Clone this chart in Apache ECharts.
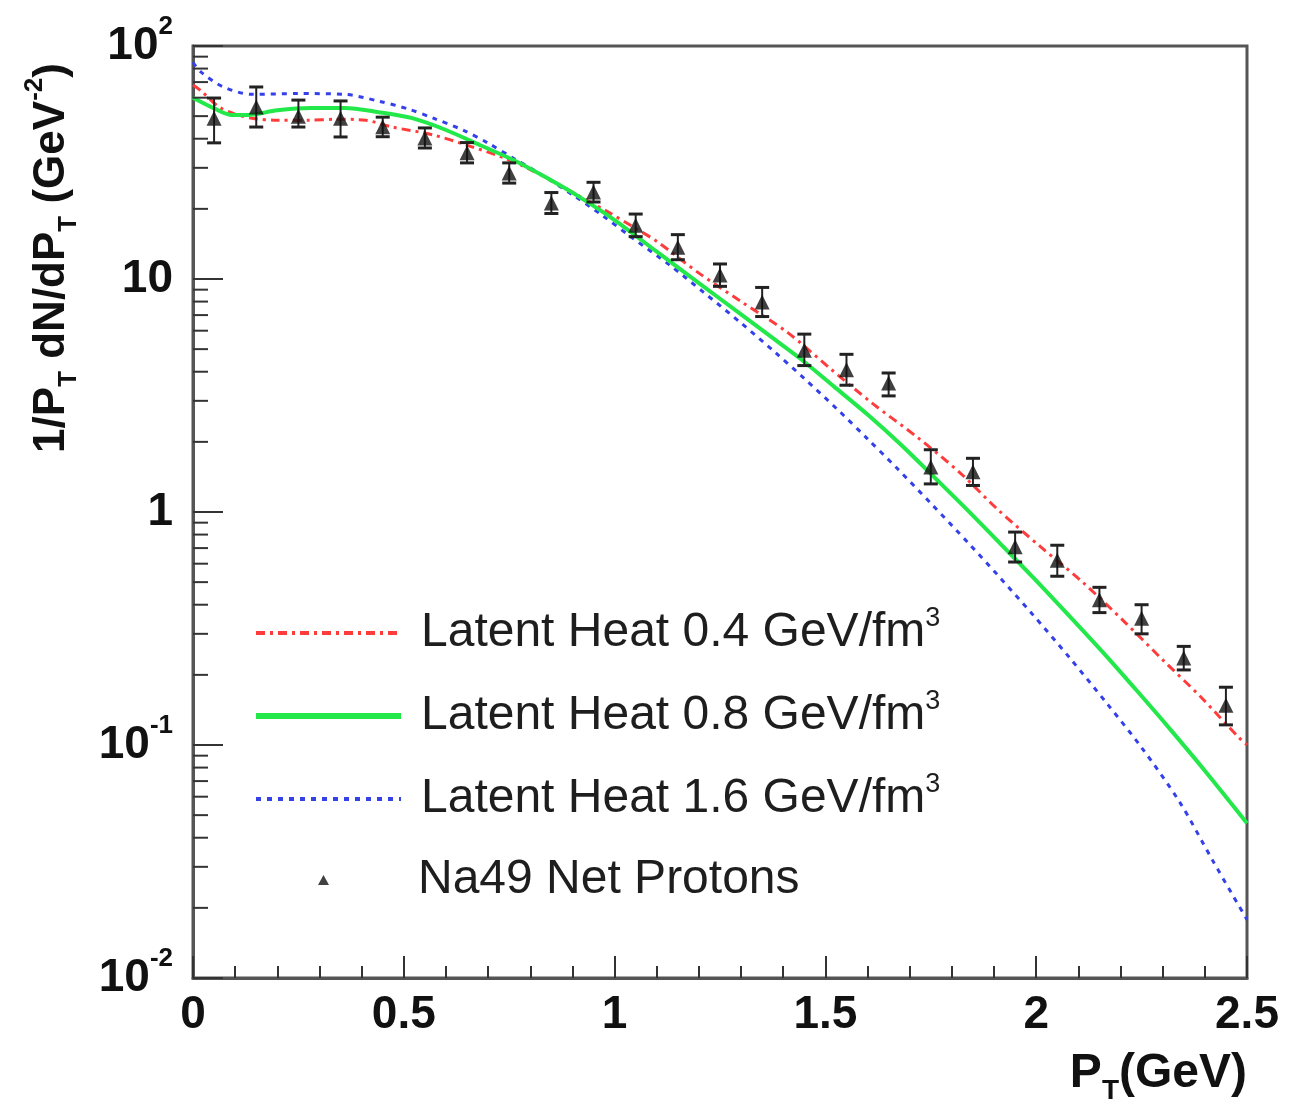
<!DOCTYPE html>
<html>
<head>
<meta charset="utf-8">
<script src="https://cdn.jsdelivr.net/npm/echarts@6/dist/echarts.min.js"></script>
<style>
  html, body { margin: 0; padding: 0; background: #fff; }
  #chart { width: 1291px; height: 1100px; }
</style>
</head>
<body>
<div id="chart"></div>
<script>
// Na49 net protons (triangles + error bars)
const ptX = [0.05, 0.15, 0.25, 0.35, 0.45, 0.55, 0.65, 0.75, 0.85, 0.95, 1.05, 1.15, 1.25,
  1.35, 1.45, 1.55, 1.65, 1.75, 1.85, 1.95, 2.05, 2.15, 2.25, 2.35, 2.45];
const ptY = [49, 54.7, 50, 49, 45, 40.3, 34.8, 28.5, 21.2, 23.6, 17, 13.7, 10.4,
  7.96, 4.95, 4.08, 3.58, 1.56, 1.49, 0.709, 0.62, 0.42, 0.35, 0.236, 0.148];
const ptHi = [59.8, 66.7, 58.6, 58.1, 49.5, 44.5, 38.5, 31.5, 23.5, 26, 19, 15.5, 11.6,
  9.2, 5.8, 4.75, 3.95, 1.85, 1.7, 0.82, 0.72, 0.475, 0.4, 0.265, 0.177];
const ptLo = [38.4, 44.9, 44.9, 40.7, 40.8, 36.5, 31.5, 25.8, 19.1, 21.4, 15.2, 12.1, 9.3,
  6.9, 4.25, 3.5, 3.15, 1.32, 1.3, 0.61, 0.53, 0.37, 0.3, 0.21, 0.122];

// latent heat 0.4 GeV/fm3
const lh04X = [0, 0.02, 0.06, 0.1, 0.14, 0.2, 0.27, 0.34, 0.41, 0.47, 0.57, 0.66, 0.74, 0.8,
  0.85, 0.92, 0.98, 1.04, 1.1, 1.2, 1.3, 1.41, 1.51, 1.61, 1.72, 1.82, 1.91, 2.01, 2.11,
  2.21, 2.3, 2.39, 2.48, 2.5];
const lh04Y = [68, 64, 55, 51, 49, 48, 48, 48.5, 48, 45, 41.5, 37, 33, 29.5, 26.5, 22.5,
  19.6, 16.9, 14.5, 10.6, 8.0, 5.9, 4.15, 2.94, 2.08, 1.47, 1.02, 0.71, 0.50, 0.337,
  0.232, 0.161, 0.108, 0.1];

// latent heat 0.8 GeV/fm3
const lh08X = [0, 0.05, 0.09, 0.13, 0.2, 0.28, 0.36, 0.44, 0.52, 0.6, 0.68, 0.76, 0.84,
  0.92, 1.0, 1.1, 1.2, 1.3, 1.37, 1.44, 1.52, 1.6, 1.68, 1.76, 1.84, 1.92, 2.0, 2.08, 2.16,
  2.24, 2.32, 2.4, 2.5];
const lh08Y = [60, 54, 50.6, 50.6, 53, 54.2, 54.2, 52, 49, 43.6, 37.6, 32.4, 27.1, 22.3,
  17.9, 13.1, 9.6, 7.05, 5.67, 4.56, 3.46, 2.62, 1.94, 1.40, 1.007, 0.716, 0.507, 0.356, 0.248,
  0.170, 0.1156, 0.0776, 0.0462];

// latent heat 1.6 GeV/fm3
const lh16X = [0, 0.02, 0.07, 0.14, 0.25, 0.36, 0.44, 0.51, 0.57, 0.64, 0.7, 0.76, 0.82,
  0.9, 0.97, 1.04, 1.13, 1.21, 1.3, 1.38, 1.45, 1.53, 1.6, 1.67, 1.75, 1.84, 1.91, 1.99,
  2.08, 2.17, 2.25, 2.34, 2.42, 2.5];
const lh16Y = [85, 77, 67, 62, 62.5, 62, 58, 53.7, 49, 43.6, 38.3, 33, 28.5, 23, 18.8,
  15.1, 11.5, 8.8, 6.47, 4.86, 3.74, 2.74, 2.06, 1.54, 1.09, 0.733, 0.533, 0.366, 0.236,
  0.149, 0.0975, 0.057, 0.0316, 0.0178];

// axis labels
const yExp = [-2, -1, 0, 1, 2];
const yBase = ['10', '10', '1', '10', '10'];
const ySup = ['-2', '-1', '', '', '2'];
const yDecades = [0.01, 0.1, 1, 10];
const yMinorMant = [2, 3, 4, 5, 6, 7, 8, 9];

const lineNames = ['Latent Heat 0.4 GeV/fm', 'Latent Heat 0.8 GeV/fm', 'Latent Heat 1.6 GeV/fm'];
const legendLineWidth = [4, 6, 4];
const dataName = 'Na49 Net Protons';

const FONT = '"Liberation Sans", Arial, Helvetica, sans-serif';
const zip = (xs, ys) => xs.map((x, i) => [x, ys[i]]);

const minorVals = [];
yDecades.forEach(d => yMinorMant.forEach(m => minorVals.push([0, d * m])));

const legendText = {
  fontSize: 48, fontFamily: FONT, color: '#1e1e1e', lineHeight: 56,
  rich: {
    s: { fontSize: 27, fontFamily: FONT, color: '#1e1e1e', lineHeight: 26, verticalAlign: 'top' }
  }
};

const chart = echarts.init(document.getElementById('chart'));

const option = {
  backgroundColor: '#fff',
  animation: false,
  grid: {
    left: 193, right: 44, top: 46, bottom: 122,
    show: true, borderColor: '#555', borderWidth: 3
  },
  xAxis: {
    type: 'value', min: 0, max: 2.5, interval: 0.5,
    axisLine: { lineStyle: { color: '#555', width: 3 } },
    axisTick: { inside: true, length: 22, lineStyle: { color: '#333', width: 2 } },
    minorTick: { show: true, splitNumber: 5, length: 12, lineStyle: { color: '#333', width: 2 } },
    splitLine: { show: false },
    axisLabel: {
      fontSize: 46, fontWeight: 'bold', fontFamily: FONT, color: '#111', margin: 14,
      formatter: v => String(+v.toFixed(1))
    }
  },
  yAxis: {
    type: 'log', logBase: 10, min: 0.01, max: 100,
    axisLine: { lineStyle: { color: '#555', width: 3 } },
    axisTick: { inside: true, length: 30, lineStyle: { color: '#333', width: 2 } },
    splitLine: { show: false },
    axisLabel: {
      margin: 20,
      formatter: v => {
        const i = yExp.indexOf(Math.round(Math.log10(v)));
        if (i < 0) return '';
        return '{b|' + yBase[i] + '}' + (ySup[i] ? '{s|' + ySup[i] + '}' : '');
      },
      rich: {
        b: { fontSize: 46, fontWeight: 'bold', fontFamily: FONT, color: '#111', lineHeight: 64 },
        s: { fontSize: 26, fontWeight: 'bold', fontFamily: FONT, color: '#111', lineHeight: 28, verticalAlign: 'top' }
      }
    }
  },
  legend: [
    {
      orient: 'vertical', left: 253, top: 605, padding: 0,
      itemWidth: 145, itemHeight: 11, itemGap: 27,
      data: lineNames.map((n, i) => ({
        name: n, itemStyle: { opacity: 0 }, lineStyle: { width: legendLineWidth[i] }
      })),
      formatter: name => name + '{s|3}',
      textStyle: Object.assign({ padding: [0, 0, 0, 15] }, legendText)
    },
    {
      orient: 'vertical', left: 318, top: 852, padding: 0,
      itemWidth: 11, itemHeight: 10,
      data: [dataName],
      textStyle: Object.assign({ padding: [0, 0, 0, 84] }, legendText)
    }
  ],
  graphic: [
    {
      type: 'text', x: 52, y: 258, rotation: Math.PI / 2,
      style: {
        text: '{b|1/P}{d|T}{b| dN/dP}{d|T}{b| (GeV}{u|-2}{b|)}',
        align: 'center', verticalAlign: 'middle',
        rich: {
          b: { fontSize: 44, fontWeight: 'bold', fontFamily: FONT, fill: '#111', lineHeight: 60 },
          d: { fontSize: 26, fontWeight: 'bold', fontFamily: FONT, fill: '#111', lineHeight: 28, verticalAlign: 'bottom' },
          u: { fontSize: 26, fontWeight: 'bold', fontFamily: FONT, fill: '#111', lineHeight: 28, verticalAlign: 'top' }
        }
      }
    },
    {
      type: 'text', x: 1247, y: 1074,
      style: {
        text: '{b|P}{d|T}{b|(GeV)}',
        align: 'right', verticalAlign: 'middle',
        rich: {
          b: { fontSize: 48, fontWeight: 'bold', fontFamily: FONT, fill: '#111', lineHeight: 62 },
          d: { fontSize: 28, fontWeight: 'bold', fontFamily: FONT, fill: '#111', lineHeight: 30, verticalAlign: 'bottom' }
        }
      }
    }
  ],
  series: [
    {
      // y minor ticks (log decades)
      type: 'custom', name: 'yminor', silent: true, z: 5,
      data: minorVals,
      renderItem: (params, api) => {
        const p = api.coord([api.value(0), api.value(1)]);
        return { type: 'line', shape: { x1: p[0], y1: p[1], x2: p[0] + 15, y2: p[1] },
          style: { stroke: '#333', lineWidth: 2 } };
      }
    },
    {
      name: lineNames[2], type: 'line', symbol: 'none', smooth: 0.3, z: 3,
      data: zip(lh16X, lh16Y),
      lineStyle: { color: '#3440e8', width: 3, type: [5, 6] },
      itemStyle: { color: '#3440e8' }
    },
    {
      name: lineNames[0], type: 'line', symbol: 'none', smooth: 0.3, z: 3,
      data: zip(lh04X, lh04Y),
      lineStyle: { color: '#ff3c3c', width: 3, type: [9, 5, 3, 5] },
      itemStyle: { color: '#ff3c3c' }
    },
    {
      name: lineNames[1], type: 'line', symbol: 'none', smooth: 0.3, z: 4,
      data: zip(lh08X, lh08Y),
      lineStyle: { color: '#22e84a', width: 4 },
      itemStyle: { color: '#22e84a' }
    },
    {
      type: 'custom', name: 'errors', silent: true, z: 6,
      data: ptX.map((x, i) => [x, ptLo[i], ptHi[i]]),
      encode: { x: 0, y: [1, 2] },
      renderItem: (params, api) => {
        const lo = api.coord([api.value(0), api.value(1)]);
        const hi = api.coord([api.value(0), api.value(2)]);
        const st = { stroke: '#222', lineWidth: 2 };
        const cap = { stroke: '#222', lineWidth: 3 };
        return {
          type: 'group', children: [
            { type: 'line', shape: { x1: lo[0], y1: lo[1], x2: hi[0], y2: hi[1] }, style: st },
            { type: 'line', shape: { x1: hi[0] - 7, y1: hi[1], x2: hi[0] + 7, y2: hi[1] }, style: cap },
            { type: 'line', shape: { x1: lo[0] - 7, y1: lo[1], x2: lo[0] + 7, y2: lo[1] }, style: cap }
          ]
        };
      }
    },
    {
      name: dataName, type: 'scatter', symbol: 'triangle', symbolSize: 15, z: 7,
      data: zip(ptX, ptY),
      itemStyle: { color: '#111' }
    }
  ]
};

chart.setOption(option);
</script>
</body>
</html>
